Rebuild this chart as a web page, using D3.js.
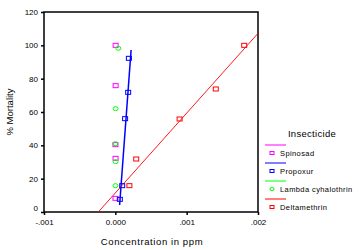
<!DOCTYPE html>
<html>
<head>
<meta charset="utf-8">
<script src="https://cdnjs.cloudflare.com/ajax/libs/d3/7.8.5/d3.min.js"></script>
<style>
  body { margin: 0; background: #fff; }
  svg { display: block; font-family: "Liberation Sans", Arial, sans-serif; }
</style>
</head>
<body>
<div id="chart"></div>
<script>
// observed points: [concentration (ppm), % mortality]
const spinosad = [[0.000004, 100], [0.000004, 75.8], [0.000002, 40.4], [0.000003, 32.2], [0.000002, 8.2]];
const propoxur = [[0.00019, 92.2], [0.00018, 71.8], [0.000137, 56], [0.000096, 15.8], [0.000063, 7.6]];
const lambda = [[0.000042, 98.2], [0.000004, 62], [0.000001, 41], [0.000004, 30.2], [0.000002, 15.8]];
const deltamethrin = [[0.001807, 100], [0.001408, 73.8], [0.000901, 55.8], [0.000293, 31.8], [0.000197, 15.8]];

// fitted lines
const propoxurFit = [[0.00006, 4.2], [0.000221, 97.2]];
const deltamethrinFit = [[-0.000239, 0], [0.002, 107.2]];

const xTicks = [-0.001, 0, 0.001, 0.002];
const xTickLabels = ["-.001", "0.000", ".001", ".002"];
const yTicks = [0, 20, 40, 60, 80, 100, 120];

const seriesNames = ["Spinosad", "Propoxur", "Lambda cyhalothrin", "Deltamethrin"];
const seriesColors = ["#ff00ff", "#0000ff", "#00ff00", "#ff0000"];

const width = 362, height = 250;
const margin = {top: 12, right: 104, bottom: 38, left: 44};
const w = width - margin.left - margin.right;
const h = height - margin.top - margin.bottom;

const svg = d3.select("#chart").append("svg")
    .attr("width", width)
    .attr("height", height);

const g = svg.append("g")
    .attr("transform", `translate(${margin.left},${margin.top})`);

const x = d3.scaleLinear().domain([-0.001, 0.002]).range([0, w]);
const y = d3.scaleLinear().domain([0, 120]).range([h, 0]);

// frame
g.append("rect")
    .attr("width", w).attr("height", h)
    .attr("fill", "none").attr("stroke", "#000").attr("stroke-width", 1.5);

// axes
const xAxis = d3.axisBottom(x).tickValues(xTicks).tickSize(3)
    .tickFormat((d, i) => xTickLabels[i]);
const yAxis = d3.axisLeft(y).tickValues(yTicks).tickSize(3);

const gx = g.append("g").attr("transform", `translate(0,${h})`).call(xAxis);
const gy = g.append("g").call(yAxis);
[gx, gy].forEach(a => {
    a.select(".domain").remove();
    a.selectAll("line").attr("stroke", "#000").attr("stroke-width", 1.5);
    a.selectAll("text").attr("font-size", "8px").attr("fill", "#000")
        .attr("font-family", "Liberation Sans, Arial, sans-serif");
});
gx.selectAll("text").attr("dy", "0.9em");
gy.selectAll("text").attr("x", -6);
gy.selectAll(".tick").filter(d => d === 0).select("text").attr("dy", "-0.2em");

// fitted lines
const line = d3.line().x(d => x(d[0])).y(d => y(d[1]));
g.append("path").datum(propoxurFit)
    .attr("fill", "none").attr("stroke", seriesColors[1]).attr("stroke-width", 1.5)
    .attr("d", line);
g.append("path").datum(deltamethrinFit)
    .attr("fill", "none").attr("stroke", seriesColors[3]).attr("stroke-width", 0.9)
    .attr("d", line);

// markers
function squares(data, color) {
    g.selectAll(null).data(data).enter().append("rect")
        .attr("x", d => x(d[0]) - 2.5).attr("y", d => y(d[1]) - 2)
        .attr("width", 5).attr("height", 4)
        .attr("fill", "none").attr("stroke", color).attr("stroke-width", 1);
}
function circles(data, color) {
    g.selectAll(null).data(data).enter().append("ellipse")
        .attr("cx", d => x(d[0])).attr("cy", d => y(d[1]))
        .attr("rx", 2.5).attr("ry", 2)
        .attr("fill", "none").attr("stroke", color).attr("stroke-width", 1);
}
squares(spinosad, seriesColors[0]);
squares(propoxur, seriesColors[1]);
circles(lambda, seriesColors[2]);
squares(deltamethrin, seriesColors[3]);

// axis titles
svg.append("text")
    .attr("x", 152).attr("y", 245)
    .attr("text-anchor", "middle")
    .attr("font-size", "9.5px").attr("letter-spacing", "0.6px")
    .text("Concentration in ppm");
svg.append("text")
    .attr("transform", "translate(13,112) rotate(-90)")
    .attr("text-anchor", "middle")
    .attr("font-size", "9.5px")
    .text("% Mortality");

// legend
const legend = svg.append("g").attr("transform", "translate(265,0)");
legend.append("text")
    .attr("x", 47).attr("y", 137)
    .attr("text-anchor", "middle")
    .attr("font-size", "9.5px").attr("letter-spacing", "0.3px")
    .text("Insecticide");
seriesNames.forEach((name, i) => {
    const y0 = 145 + i * 18;
    legend.append("line")
        .attr("x1", 0).attr("x2", 21).attr("y1", y0).attr("y2", y0)
        .attr("stroke", seriesColors[i]).attr("stroke-width", 1);
    if (i === 2) {
        legend.append("ellipse").attr("cx", 7).attr("cy", y0 + 8)
            .attr("rx", 2).attr("ry", 1.7)
            .attr("fill", "none").attr("stroke", seriesColors[i]);
    } else {
        legend.append("rect").attr("x", 5).attr("y", y0 + 6.5)
            .attr("width", 4).attr("height", 3)
            .attr("fill", "none").attr("stroke", seriesColors[i]);
    }
    legend.append("text")
        .attr("x", 15).attr("y", y0 + 11)
        .attr("font-size", "7.5px").attr("letter-spacing", "0.4px")
        .text(name);
});
</script>
</body>
</html>
